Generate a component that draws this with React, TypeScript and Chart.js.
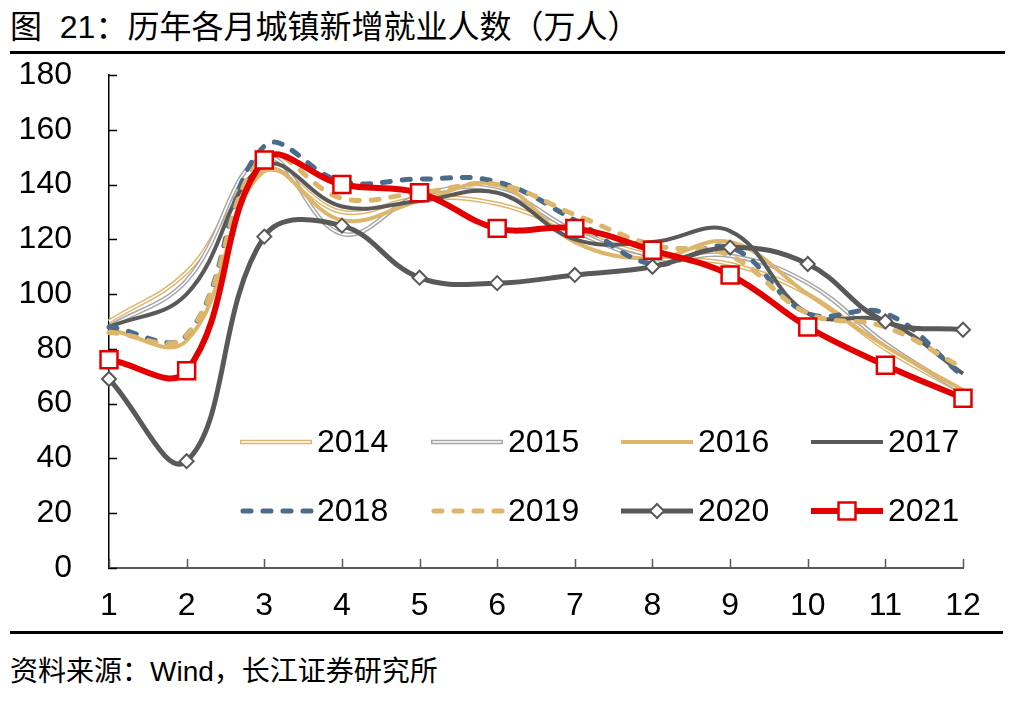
import React, { useEffect, useRef } from 'react';
import { Chart, registerables } from 'chart.js';

Chart.register(...registerables);

// ---- data ----
const months = ['1', '2', '3', '4', '5', '6', '7', '8', '9', '10', '11', '12'];
const years = ['2014', '2015', '2016', '2017', '2018', '2019', '2020', '2021'];
const v2014 = [90, 108, 145, 130, 135, 133, 123, 114, 111, 100, 80, 64];
const v2015 = [88, 105, 150, 122, 136, 138, 123, 113, 114, 104, 82, 64];
const v2016 = [87, 83, 145, 127, 134, 140, 119, 113, 119, 100, 81, 65];
const v2017 = [88, 100, 147, 132, 134, 137, 120, 119, 123, 93, 90, 71];
const v2018 = [88, 85, 154, 141, 142, 141, 127, 111, 117, 93, 93, 70];
const v2019 = [86, 85, 150, 135, 137, 140, 129, 118, 114, 93, 88, 73];
const v2020 = [69, 39, 121, 125, 106, 104, 107, 110, 117, 111, 90, 87];
const v2021 = [76, 72, 149, 140, 137, 124, 124, 116, 107, 88, 74, 62];
const yMin = 0;
const yMax = 180;
const yStep = 20;

const title = '图\u00a0\u00a021：历年各月城镇新增就业人数（万人）';
const source = '资料来源：Wind，长江证券研究所';

// ---- styles ----
const TAN = '#DDB66B';
const GRAY = '#A6A6A6';
const DARK = '#595959';
const BLUE = '#4A6C8A';
const RED = '#E30000';
const NUM_FONT = "'Liberation Sans', Arial, sans-serif";
const NUM_SIZE = 32;

type Style = {
  color: string;
  width: number;
  double?: boolean;
  dash?: number[];
  marker?: 'diamond' | 'square';
};

const styles: Style[] = [
  { color: TAN, width: 4.5, double: true },
  { color: GRAY, width: 4.5, double: true },
  { color: TAN, width: 4 },
  { color: DARK, width: 4 },
  { color: BLUE, width: 5, dash: [8, 12] },
  { color: TAN, width: 5, dash: [8, 12] },
  { color: DARK, width: 5, marker: 'diamond' },
  { color: RED, width: 6, marker: 'square' },
];
const seriesValues = [v2014, v2015, v2016, v2017, v2018, v2019, v2020, v2021];

function buildDatasets() {
  const ds: any[] = [];
  let k = 0;
  years.forEach((yr, i) => {
    const st = styles[i];
    const base: any = {
      label: yr,
      data: seriesValues[i],
      borderColor: st.color,
      borderWidth: st.width,
      tension: 0.4,
      fill: false,
      clip: false,
      order: 100 - k++,
      pointRadius: 0,
      pointHoverRadius: 0,
      borderCapStyle: st.dash ? 'round' : 'butt',
      borderJoinStyle: 'round',
    };
    if (st.dash) base.borderDash = st.dash;
    if (st.marker === 'diamond') {
      base.pointStyle = 'rectRot';
      base.pointRadius = 7;
      base.pointBorderWidth = 2;
      base.pointBackgroundColor = '#fff';
      base.pointBorderColor = st.color;
    }
    if (st.marker === 'square') {
      base.pointStyle = 'rect';
      base.pointRadius = 12;
      base.pointBorderWidth = 2.5;
      base.pointBackgroundColor = '#fff';
      base.pointBorderColor = st.color;
    }
    ds.push(base);
    if (st.double) {
      ds.push({
        label: yr + '_inner',
        data: seriesValues[i],
        borderColor: '#fff',
        borderWidth: 1.6,
        tension: 0.4,
        fill: false,
        clip: false,
        order: 100 - k++,
        pointRadius: 0,
        pointHoverRadius: 0,
      });
    }
  });
  return ds;
}

const inwardTicks = {
  id: 'inwardTicks',
  beforeDatasetsDraw(chart: any) {
    const { ctx, scales } = chart;
    const x = scales.x;
    const y = scales.y;
    ctx.save();
    ctx.lineWidth = 1.5;
    ctx.strokeStyle = '#000';
    y.ticks.forEach((_t: any, i: number) => {
      const py = Math.round(y.getPixelForTick(i)) + 0.5;
      ctx.beginPath();
      ctx.moveTo(x.left, py);
      ctx.lineTo(x.left + 8, py);
      ctx.stroke();
    });
    ctx.strokeStyle = DARK;
    x.ticks.forEach((_t: any, i: number) => {
      const px = Math.round(x.getPixelForTick(i)) + 0.5;
      ctx.beginPath();
      ctx.moveTo(px, y.bottom);
      ctx.lineTo(px, y.bottom - 9);
      ctx.stroke();
    });
    ctx.restore();
  },
};

const legendCols = [240, 431, 621, 811];
const legendRows = [382, 451];

const innerLegend = {
  id: 'innerLegend',
  afterDraw(chart: any) {
    const { ctx } = chart;
    ctx.save();
    years.forEach((yr, i) => {
      const st = styles[i];
      const x0 = legendCols[i % 4];
      const yy = legendRows[Math.floor(i / 4)];
      const x1 = x0 + 72;
      ctx.beginPath();
      ctx.setLineDash(st.dash || []);
      ctx.lineCap = st.dash ? 'round' : 'butt';
      ctx.strokeStyle = st.color;
      ctx.lineWidth = st.width;
      ctx.moveTo(x0 + (st.dash ? 3 : 0), yy);
      ctx.lineTo(x1, yy);
      ctx.stroke();
      ctx.setLineDash([]);
      if (st.double) {
        ctx.beginPath();
        ctx.strokeStyle = '#fff';
        ctx.lineWidth = 1.6;
        ctx.moveTo(x0 + 1.5, yy);
        ctx.lineTo(x1 - 1.5, yy);
        ctx.stroke();
      }
      const cx = (x0 + x1) / 2;
      if (st.marker === 'diamond') {
        ctx.beginPath();
        ctx.moveTo(cx - 7, yy);
        ctx.lineTo(cx, yy - 7);
        ctx.lineTo(cx + 7, yy);
        ctx.lineTo(cx, yy + 7);
        ctx.closePath();
        ctx.fillStyle = '#fff';
        ctx.fill();
        ctx.lineWidth = 2;
        ctx.strokeStyle = st.color;
        ctx.stroke();
      }
      if (st.marker === 'square') {
        const h = 12 * Math.SQRT1_2;
        ctx.beginPath();
        ctx.rect(cx - h, yy - h, 2 * h, 2 * h);
        ctx.fillStyle = '#fff';
        ctx.fill();
        ctx.lineWidth = 2.5;
        ctx.strokeStyle = st.color;
        ctx.stroke();
      }
      ctx.fillStyle = '#000';
      ctx.font = `${NUM_SIZE}px ${NUM_FONT}`;
      ctx.textBaseline = 'middle';
      ctx.textAlign = 'left';
      ctx.fillText(yr, x0 + 77, yy + 1);
    });
    ctx.restore();
  },
};

export default function App() {
  const ref = useRef<HTMLCanvasElement>(null);

  useEffect(() => {
    const canvas = ref.current;
    if (!canvas) return;
    const chart = new Chart(canvas, {
      type: 'line',
      data: { labels: months, datasets: buildDatasets() },
      options: {
        animation: false,
        responsive: false,
        events: [],
        layout: { padding: { left: 0, right: 57, top: 15, bottom: 0 } },
        plugins: {
          legend: { display: false },
          tooltip: { enabled: false },
          title: { display: false },
        },
        scales: {
          x: {
            type: 'category',
            offset: false,
            grid: { display: false, drawTicks: false },
            border: { display: true, color: DARK, width: 2 },
            ticks: {
              color: '#000',
              font: { family: NUM_FONT, size: NUM_SIZE },
              padding: 19,
              maxRotation: 0,
              autoSkip: false,
            },
            afterFit(scale: any) {
              scale.height = 72;
              scale.paddingLeft = 0;
              scale.paddingRight = 0;
            },
          },
          y: {
            min: yMin,
            max: yMax,
            grid: { display: false, drawTicks: false },
            border: { display: true, color: '#000', width: 1.5 },
            ticks: {
              stepSize: yStep,
              color: '#000',
              font: { family: NUM_FONT, size: NUM_SIZE },
              padding: 37,
            },
            afterFit(scale: any) {
              scale.width = 109;
              scale.paddingTop = 0;
              scale.paddingBottom = 0;
            },
          },
        },
      },
      plugins: [inwardTicks, innerLegend],
    } as any);
    return () => chart.destroy();
  }, []);

  const cjk = "'Liberation Sans', 'Noto Sans CJK SC', sans-serif";
  return (
    <div
      style={{
        position: 'absolute',
        left: 0,
        top: 0,
        width: 1020,
        height: 703,
        background: '#fff',
        overflow: 'hidden',
      }}
    >
      <div
        style={{
          position: 'absolute',
          left: 10,
          top: 9,
          fontSize: 32,
          lineHeight: '36px',
          fontFamily: cjk,
          color: '#000',
          whiteSpace: 'nowrap',
        }}
      >
        {title}
      </div>
      <div style={{ position: 'absolute', left: 10, top: 51, width: 995, height: 3, background: '#000' }} />
      <canvas
        ref={ref}
        width={1020}
        height={580}
        style={{ position: 'absolute', left: 0, top: 60, width: 1020, height: 580 }}
      />
      <div style={{ position: 'absolute', left: 10, top: 631, width: 993, height: 3, background: '#000' }} />
      <div
        style={{
          position: 'absolute',
          left: 10,
          top: 656,
          fontSize: 28,
          lineHeight: '32px',
          fontFamily: cjk,
          color: '#000',
          whiteSpace: 'nowrap',
        }}
      >
        {source}
      </div>
    </div>
  );
}
